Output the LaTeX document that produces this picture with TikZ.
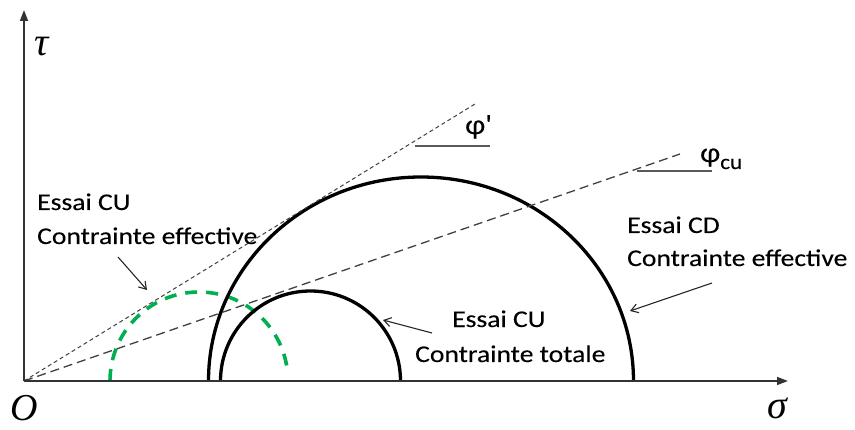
\documentclass[tikz,border=0pt]{standalone}
\usepackage{fontspec}
\setmainfont{Carlito}
\newfontfamily\lab[FakeStretch=1.15,FakeBold=0.15]{Carlito}
\newfontfamily\phif[FakeStretch=1.1,FakeBold=0.15,Ligatures=TeXOff]{Carlito}
\newfontfamily\axf{Liberation Serif}
\usetikzlibrary{arrows.meta}
\definecolor{envgreen}{RGB}{0,176,80}
\begin{document}
\begin{tikzpicture}[x=1pt,y=1pt,
  lbl/.style={font=\lab\fontsize{24}{24}\selectfont, inner sep=0pt, anchor=base west},
  philbl/.style={font=\phif\fontsize{28}{28}\selectfont, inner sep=0pt, anchor=base west},
  axlbl/.style={font=\axf\itshape\fontsize{40}{40}\selectfont, inner sep=0pt},
  axisline/.style={line width=1.5pt, black!80, -{Triangle[length=11pt,width=8pt]}},
  circ/.style={line width=3.3pt, black},
  greencirc/.style={line width=3.6pt, envgreen, dash pattern=on 12pt off 9pt},
  phiprime/.style={line width=1pt, black!75, dash pattern=on 4pt off 3pt},
  phicu/.style={line width=1.3pt, black!75, dash pattern=on 9pt off 5pt},
  ptr/.style={line width=1.1pt, black!85, -{Straight Barb[length=7pt,width=9pt]}},
  hline/.style={line width=1.2pt, black!65}
]
\useasboundingbox (0,0) rectangle (855,429);
% axes
\coordinate (O) at (24,48);
\coordinate (ytip) at (24,419);
\coordinate (xtip) at (788,48);
% circles
\draw[greencirc] (110,48) arc[start angle=180,end angle=8,radius=89];
\draw[circ] (220.5,48) arc[start angle=180,end angle=0,radius=90];
\draw[circ] (208.5,48) arc[start angle=180,end angle=0,x radius=212.5,y radius=204];
% envelopes
\coordinate (P1) at (475,325);
\coordinate (P2) at (680,275);
\draw[phiprime] (O) -- (P1);
\draw[phicu] (O) -- (P2);
\coordinate (h1a) at (415,283);
\coordinate (h1b) at (490,283);
\coordinate (h2a) at (637,258);
\coordinate (h2b) at (712,258);
\draw[hline] (h1a) -- (h1b);
\draw[hline] (h2a) -- (h2b);
\draw[axisline] (O) -- (ytip);
\draw[axisline] (O) -- (xtip);
% axis labels
\node[axlbl] (tau) at (42,382) {τ};
\node[axlbl] (sig) at (777,21) {σ};
\node[axlbl, font=\axf\itshape\fontsize{38}{38}\selectfont] (zero) at (24,21) {O};
% angle labels
\node[philbl] (phip) at (465,295) {φ'};
\node[philbl] (phcu) at (700,267) {φ\raisebox{-7pt}{\fontsize{21}{21}\selectfont cu}};
% text labels
\node[lbl] (cu1a) at (37,219) {Essai CU};
\node[lbl] (cu1b) at (37,185) {Contrainte effective};
\node[lbl] (cd1a) at (627,196) {Essai CD};
\node[lbl] (cd1b) at (627,163) {Contrainte effective};
\node[lbl] (cu2a) at (452,102) {Essai CU};
\node[lbl] (cu2b) at (415,67) {Contrainte totale};
% pointers
\coordinate (a1s) at (118,172);
\coordinate (a1e) at (147,139);
\coordinate (a2s) at (712,146);
\coordinate (a2e) at (630,118);
\coordinate (a3s) at (432,96);
\coordinate (a3e) at (383,109);
\draw[ptr] (a1s) -- (a1e);
\draw[ptr] (a2s) -- (a2e);
\draw[ptr] (a3s) -- (a3e);
\end{tikzpicture}
\end{document}
